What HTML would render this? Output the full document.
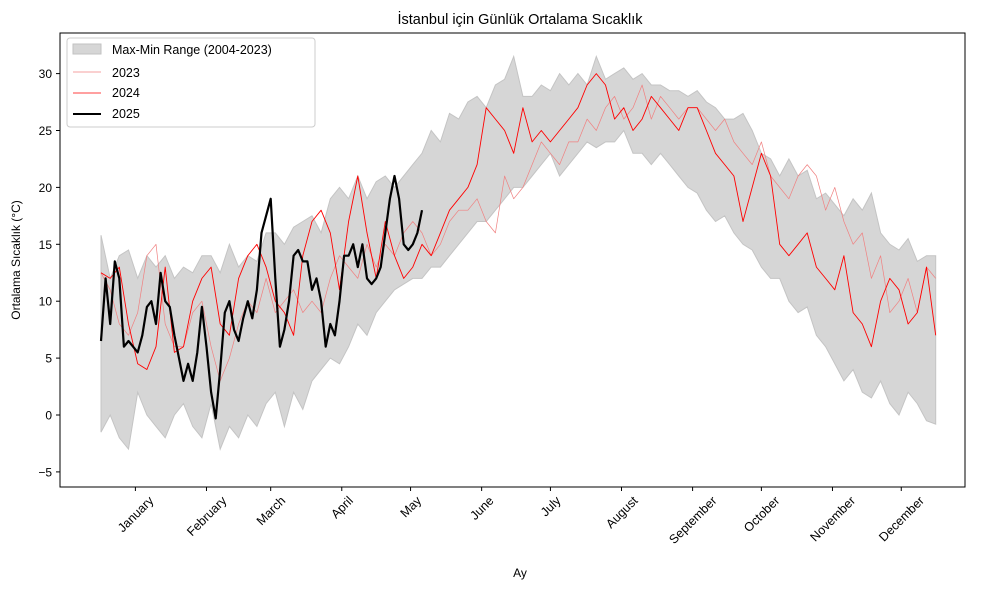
<!DOCTYPE html>
<html><head><meta charset="utf-8">
<style>
body{margin:0;background:#fff;}
svg{display:block;font-family:"Liberation Sans","DejaVu Sans",sans-serif;}
</style></head>
<body>
<svg id="chart" width="989" height="590" viewBox="0 0 989 590" xmlns="http://www.w3.org/2000/svg">
<rect width="989" height="590" fill="#fff"/>
<text x="520" y="24" text-anchor="middle" font-size="14.5">İstanbul için Günlük Ortalama Sıcaklık</text>
<g id="plot"></g>
<rect x="60" y="33" width="905" height="454" fill="none" stroke="#000" stroke-width="1"/>
<g id="yaxis"></g>
<g id="xaxis"></g>
<text transform="translate(20,260) rotate(-90)" text-anchor="middle" font-size="12">Ortalama Sıcaklık (°C)</text>
<text x="520" y="577" text-anchor="middle" font-size="12">Ay</text>
<g>
<rect x="67" y="38" width="248" height="89" rx="3" fill="#fff" fill-opacity="0.8" stroke="#ccc"/>
<g><rect x="73" y="44" width="28" height="10" fill="#d6d6d6" stroke="#c2c2c2"/><text x="112" y="54" font-size="12.5">Max-Min Range (2004-2023)</text></g>
<g><line x1="73" y1="72" x2="101" y2="72" stroke="#f08080" stroke-width="0.8"/><text x="112" y="77" font-size="12.5">2023</text></g>
<g><line x1="73" y1="93" x2="101" y2="93" stroke="#ff0000" stroke-width="0.8"/><text x="112" y="97" font-size="12.5">2024</text></g>
<g><line x1="73" y1="114" x2="101" y2="114" stroke="#000" stroke-width="2"/><text x="112" y="118" font-size="12.5">2025</text></g>
</g>
</svg>
<script>
const months=["January","February","March","April","May","June","July","August","September","October","November","December"];
const monthTickDays=[16,47,75,106,136,167,197,228,259,289,320,350];
const yTicks=[-5,0,5,10,15,20,25,30];
const bandStep=4;
const bandMax=[15.8,12,14,14.5,12,14,13,14,12,13,12.5,14,14,12.5,15,13,14,13.5,16,16,15,16.5,17,17.5,16,19,20,19,21,19,20.5,21,20,21,22,23,25,24,26.5,26,27.5,28,27,29,29.5,31.5,28,28,29,28.5,30,29,30,29,31.5,29.5,30,30.5,29.5,30,29,29,28.5,28.5,28,28.5,27.5,27,26,26,26.5,25,23,22.5,21,22.5,21,21.5,19,19.5,18.5,17.5,19,18,19.5,16,15,14.5,15.5,13.5,14,14];
const bandMin=[-1.5,0,-2,-3,2,0,-1,-2,0,1,-1,-2,1,-3,-1,-2,0,-1,1,2,-1,2,0.5,3,4,5,4.5,6,8,7,9,10,11,11.5,12,12,13,13,14,15,16,17,17,18,19,20,20,21,22,23,21,22,23,24,23.5,24,24,25,23,23,22,23,22,21,20,19.5,18,17,17.5,16,15,14.5,13,12,12,10,9,9.5,7,6,4.5,3,4,2,1.5,3,1,0,2,1,-0.5,-0.8];
const y2023=[12.5,11,8,7,9,14,15,8,6,6,9,10,6,3,5,8,10,9,12,9,10,11,9,10,9,12,14,13,12,15,13,15,14,16,17,16,14,15,17,18,18,19,17,16,21,19,20,22,24,23,22,24,24,26,25,27,28,26,27,29,26,28,27,26,27,27,26,25,26,24,23,22,24,21,20,19,21,22,21,18,20,17,15,16,12,14,9,10,12,9,13,12];
const y2024=[12.5,12,13,8,4.5,4,6,13,5.5,6,10,12,13,8,7,12,14,15,13,10,9,7,14,17,18,16,11,17,21,16,12,17,14,12,13,15,14,16,18,19,20,22,27,26,25,23,27,24,25,24,25,26,27,29,30,29,26,27,25,26,28,27,26,25,27,27,25,23,22,21,17,20,23,21,15,14,15,16,13,12,11,14,9,8,6,10,12,11,8,9,13,7];
const step2025=2;
const y2025=[6.5,12,8,13.5,12,6,6.5,6,5.5,7,9.5,10,8,12.5,10,9.5,7,5,3,4.5,3,5.5,9.5,6,2,-0.3,4,9,10,7.5,6.5,8.5,10,8.5,11,16,17.5,19,12,6,7.5,10,14,14.5,13.5,13.5,11,12,10,6,8,7,10,14,14,15,13,15,12,11.5,12,13,16,19,21,19,15,14.5,15,16,18];

const NS="http://www.w3.org/2000/svg";
const x=d=>101+(d-1)*2.293;
const y=v=>415-v*11.38;
const plot=document.getElementById('plot');
function mk(tag,attrs,parent){const e=document.createElementNS(NS,tag);for(const k in attrs)e.setAttribute(k,attrs[k]);parent.appendChild(e);return e;}

let pts=[];
bandMax.forEach((v,i)=>{const d=Math.min(1+i*bandStep,366);pts.push(x(d).toFixed(1)+","+y(v).toFixed(1));});
for(let i=bandMin.length-1;i>=0;i--){const d=Math.min(1+i*bandStep,366);pts.push(x(d).toFixed(1)+","+y(bandMin[i]).toFixed(1));}
const band=mk('polygon',{points:pts.join(' '),fill:'#d6d6d6',stroke:'#c4c4c4','stroke-width':'1'},plot);



function line(arr,stp,color,w,name){
  const p=arr.map((v,i)=>x(Math.min(1+i*stp,366)).toFixed(1)+","+y(v).toFixed(1)).join(' ');
  const l=mk('polyline',{points:p,fill:'none',stroke:color,'stroke-width':w,'stroke-linejoin':'round'},plot);
  
  
}
line(y2023,bandStep,'#f08080','0.7','line-2023');
line(y2024,bandStep,'#ff0000','0.9','line-2024');
line(y2025,step2025,'#000','2.2','line-2025');

const ya=document.getElementById('yaxis');
yTicks.forEach(t=>{
  const g=mk('g',{},ya);
  
  
  mk('line',{x1:56,x2:60,y1:y(t),y2:y(t),stroke:'#000'},g);
  const tx=mk('text',{x:52,y:y(t)+4.5,'text-anchor':'end','font-size':'12'},g);
  tx.textContent=t<0?'\u2212'+Math.abs(t):String(t);
});
const xa=document.getElementById('xaxis');
months.forEach((m,i)=>{
  const px=x(monthTickDays[i]);
  const g=mk('g',{},xa);
  
  
  mk('line',{x1:px,x2:px,y1:487,y2:491,stroke:'#000'},g);
  const tx=mk('text',{'text-anchor':'middle','font-size':'12.5'},g);
  tx.textContent=m;
  const L=tx.getComputedTextLength();
  const cy=494+(L*0.707+12*0.707)/2;
  tx.setAttribute('transform',`translate(${px},${cy}) rotate(-45)`);
  tx.setAttribute('dy','4.5');
});
</script>
</body></html>
